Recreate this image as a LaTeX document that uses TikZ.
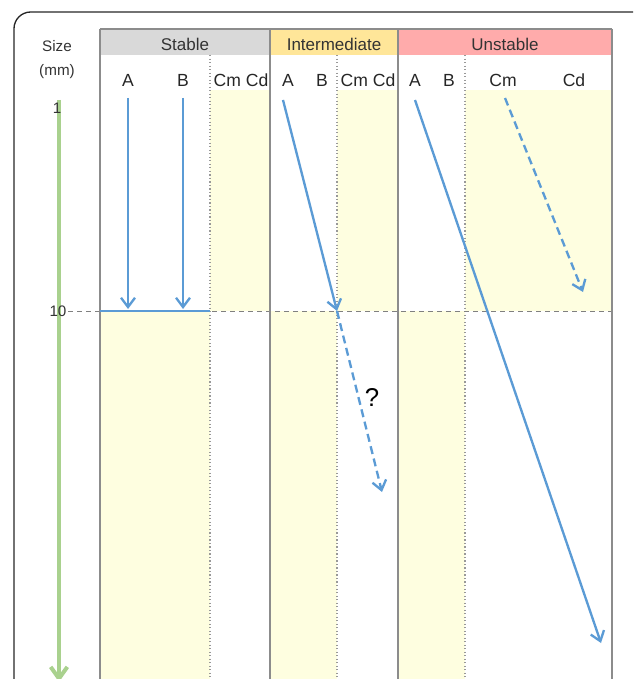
\documentclass[tikz,border=0pt]{standalone}
\usepackage{fontspec}
\setmainfont{Liberation Sans}
\usetikzlibrary{arrows.meta}
\definecolor{arrowblue}{HTML}{5B9BD5}
\definecolor{sizegreen}{HTML}{A9D18E}
\definecolor{paleyellow}{HTML}{FEFEE0}
\definecolor{stablegray}{HTML}{D9D9D9}
\definecolor{midyellow}{HTML}{FFE699}
\definecolor{unstpink}{HTML}{FFABAB}
\tikzset{
  colsep/.style={line width=0.6mm, color=black!45},
  subsep/.style={line width=0.35mm, color=black!40, dotted},
  growline/.style={line width=0.7mm, color=arrowblue, -{Straight Barb[length=2.8mm,width=4.2mm,line width=0.7mm]}},
  growdash/.style={growline, dashed, dash pattern=on 2.4mm off 1.4mm},
  head/.style={font=\fontsize{14.5}{16}\selectfont, text=black!80},
  sub/.style={font=\fontsize{15}{17}\selectfont, text=black!85},
  sizetxt/.style={font=\fontsize{13}{15}\selectfont, text=black!80}
}

\begin{document}
\begin{tikzpicture}[x=0.03cm, y=-0.03cm]
			%%%%% START %%%%%
			\useasboundingbox (0, 0) rectangle (633, 679);
			\clip (0, 0) rectangle (633, 679);
			
			\draw[line width=0.4mm, color=black!85, rounded corners=5mm] (14, 12) rectangle (650, 720);
			
			% pale fills
			\fill[paleyellow] (210, 90) rectangle (270, 311);
			\fill[paleyellow] (337, 90) rectangle (398, 311);
			\fill[paleyellow] (465, 90) rectangle (612, 311);
			\fill[paleyellow] (100, 311) rectangle (210, 690);
			\fill[paleyellow] (270, 311) rectangle (337, 690);
			\fill[paleyellow] (398, 311) rectangle (465, 690);
			
			% headers
			\fill[stablegray] (100, 29) rectangle (270, 55);
			\fill[midyellow] (270, 29) rectangle (398, 55);
			\fill[unstpink] (398, 29) rectangle (612, 55);
			\node[head] (hstable) at (185, 44) {Stable};
			\node[head] (hmid) at (334, 44) {Intermediate};
			\node[head] (hunst) at (505, 44) {Unstable};
			
			% column labels
			\node[sub] (sa) at (128, 80) {A};
			\node[sub] (sb) at (183, 80) {B};
			\node[sub] (sc) at (241, 80) {Cm Cd};
			\node[sub] (ia) at (288, 80) {A};
			\node[sub] (ib) at (322, 80) {B};
			\node[sub] (ic) at (368, 80) {Cm Cd};
			\node[sub] (ua) at (415, 80) {A};
			\node[sub] (ub) at (449, 80) {B};
			\node[sub] (ucm) at (503, 80) {Cm};
			\node[sub] (ucd) at (574, 80) {Cd};
			
			% grid
			\draw[subsep] (210, 55) -- (210, 690);
			\draw[subsep] (337, 55) -- (337, 690);
			\draw[subsep] (465, 55) -- (465, 690);
			\draw[line width=0.3mm, color=black!50, dashed, dash pattern=on 1.5mm off 1.2mm] (68, 311) -- (612, 311);
			\draw[colsep] (100, 29) -- (612, 29);
			\draw[colsep] (100, 29) -- (100, 690);
			\draw[colsep] (270, 29) -- (270, 690);
			\draw[colsep] (398, 29) -- (398, 690);
			\draw[colsep] (612, 29) -- (612, 690);
			
			% size axis
			\node[sizetxt] (size) at (57, 46) {Size};
			\node[sizetxt] (mm) at (57, 72) {(mm)};
			\draw[line width=1.2mm, color=sizegreen, -{Straight Barb[length=3.5mm,width=5mm,line width=1.2mm]}] (59, 100) -- (59, 682);
			\node[sizetxt] (one) at (57, 108) {1};
			\node[sizetxt, inner sep=0.5pt] (ten) at (58, 311) {10};
			
			% growth paths
			\draw[growline] (128, 98) -- (128, 309);
			\draw[growline] (183, 98) -- (183, 309);
			\draw[line width=0.7mm, color=arrowblue] (100, 311) -- (210, 311);
			\coordinate (cross) at (337, 311);
			\draw[growline] (283, 100) -- (cross);
			\draw[growdash] (cross) -- (382, 492);
			\node[font=\fontsize{22}{24}\selectfont] (q) at (372, 397) {?};
			\draw[growline] (415, 100) -- (601, 643);
			\draw[growdash] (505, 98) -- (583, 292);
			
			%%%%% END %%%%%
\end{tikzpicture}
\end{document}
